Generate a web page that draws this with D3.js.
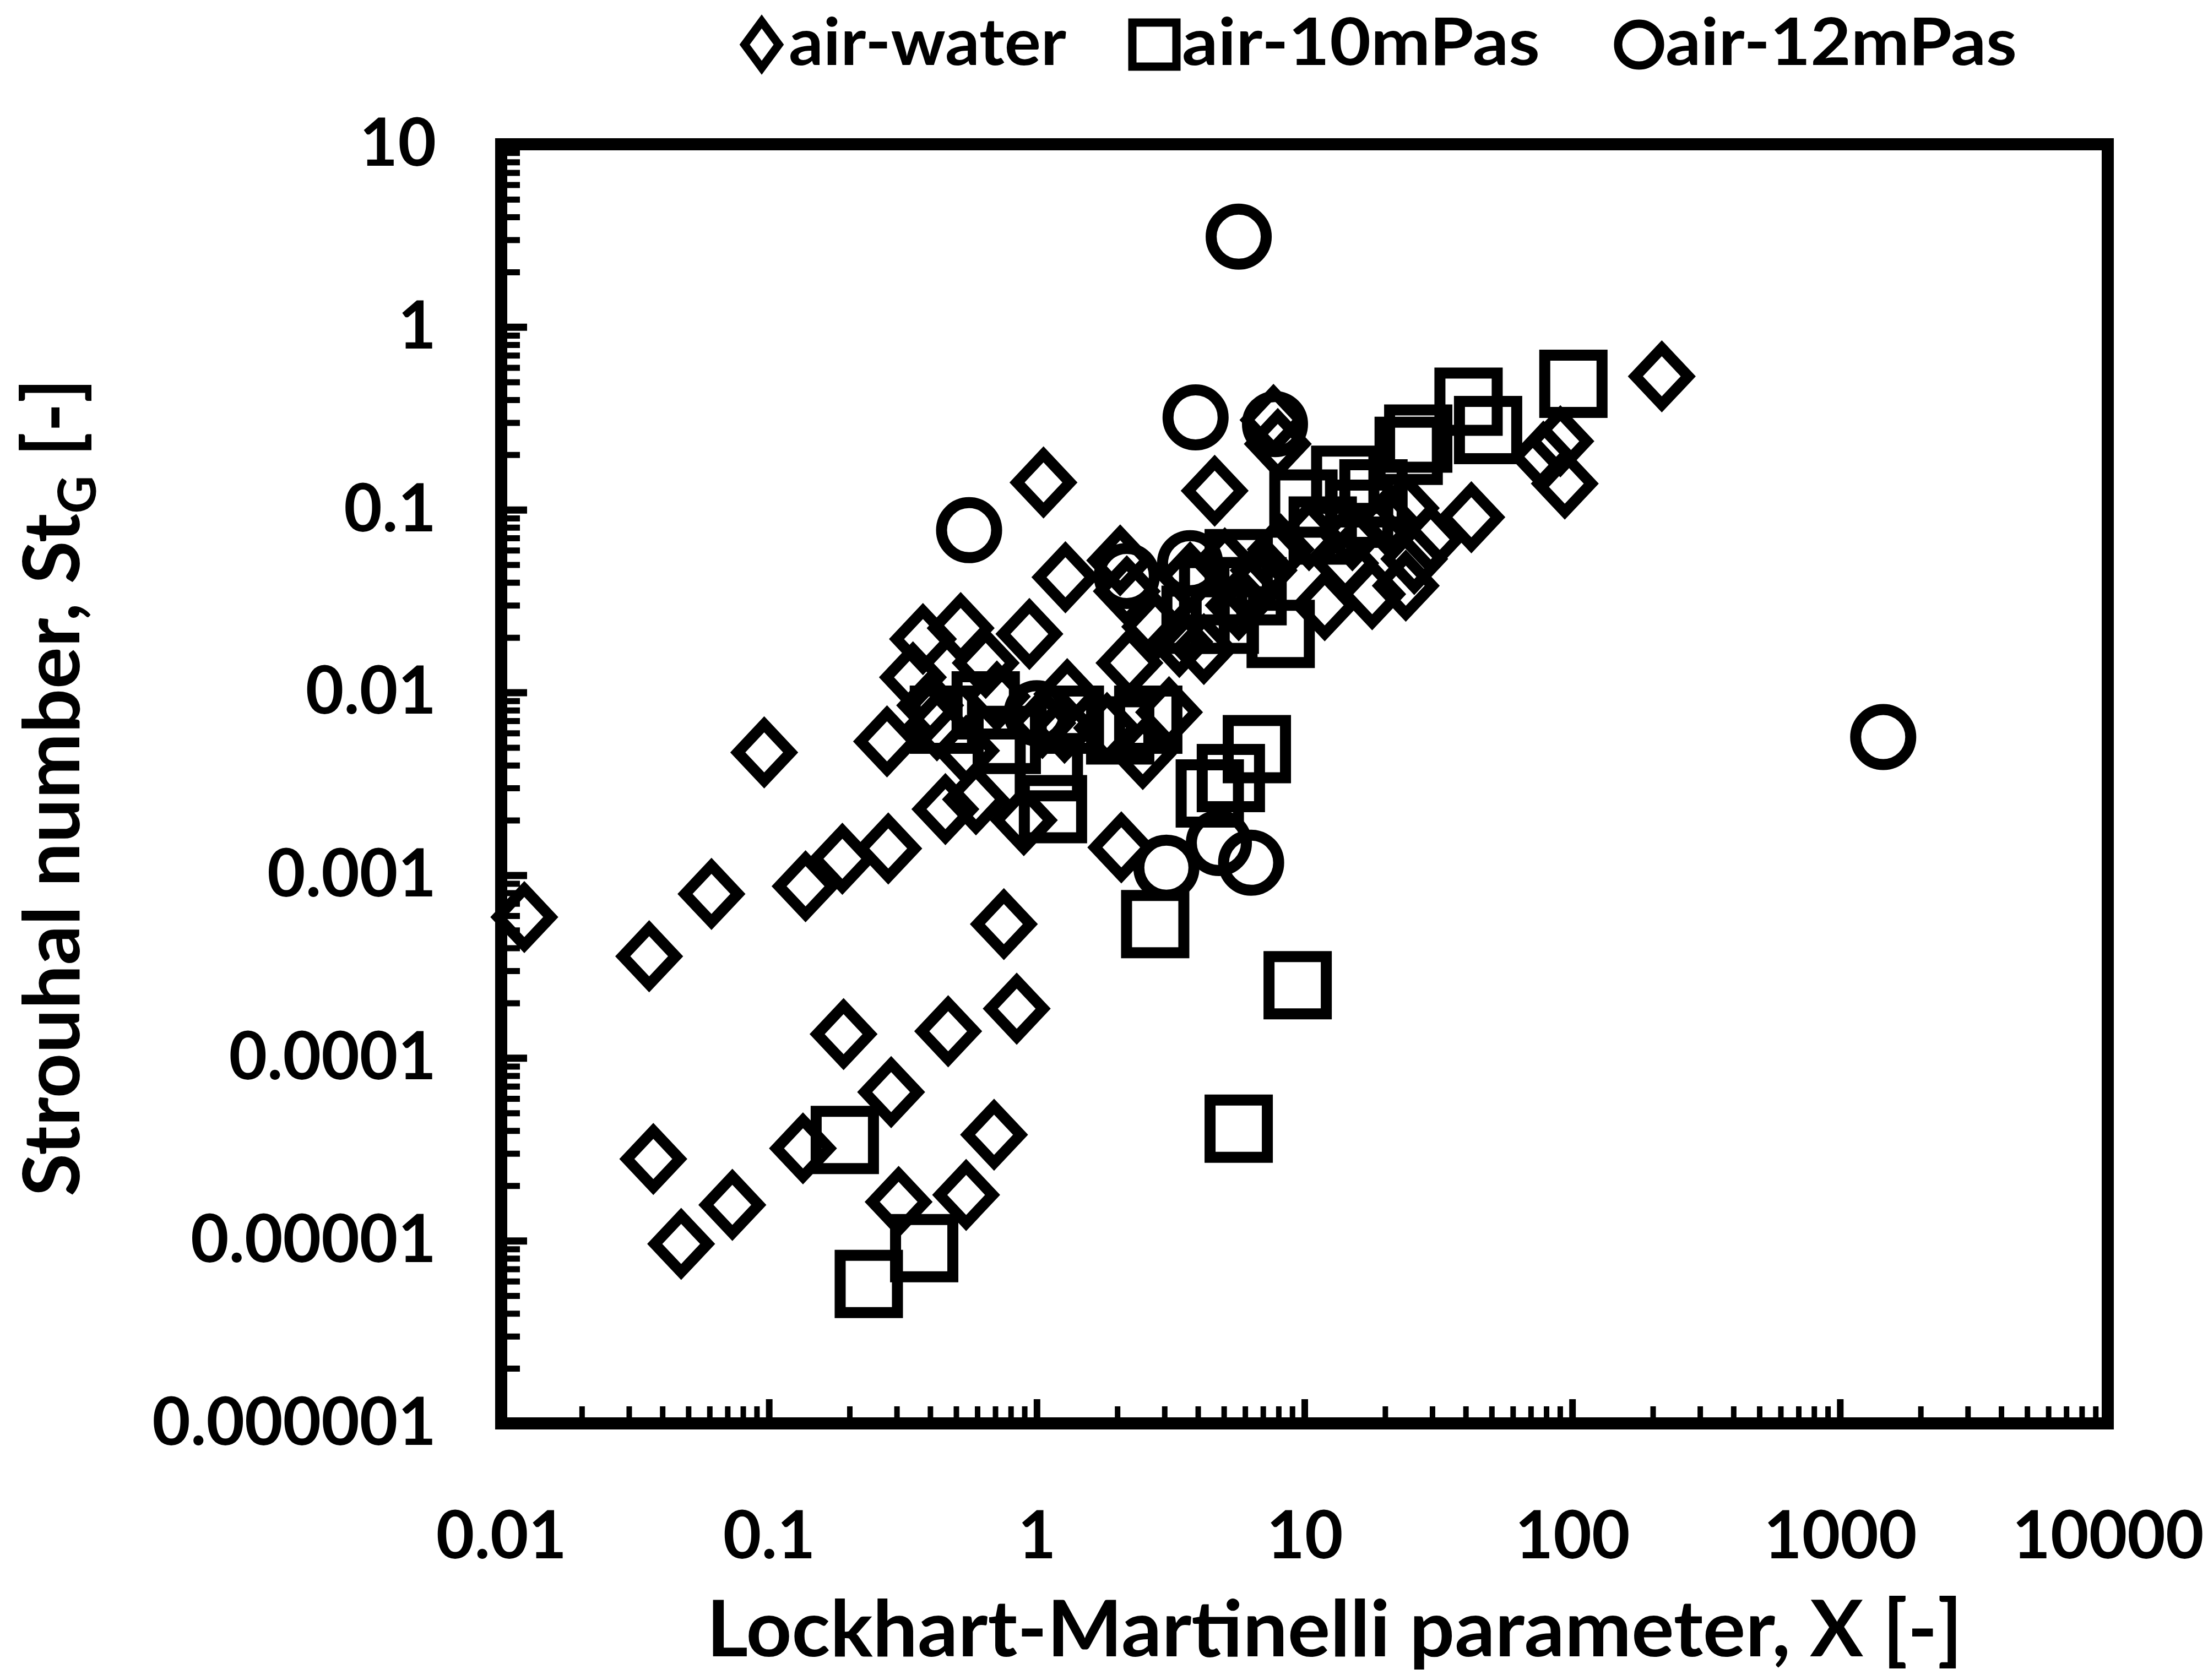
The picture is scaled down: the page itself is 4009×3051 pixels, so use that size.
<!DOCTYPE html>
<html lang="en">
<head>
  <meta charset="utf-8">
  <title>Strouhal number vs Lockhart-Martinelli parameter</title>
  <script type="text/javascript" src="https://cdn.jsdelivr.net/npm/d3@7/dist/d3.min.js"></script>
  <style>
    body { margin: 0; background: #fff; }
  </style>
</head>
<body>
  <script type="text/javascript">

  var airWater = [
    [0.0122, 5.9e-4], [0.0357, 3.6e-4], [0.061, 7.9e-4], [0.096, 4.7e-3],
    [0.137, 8.7e-4], [0.188, 1.23e-3], [0.279, 1.4e-3], [0.276, 5.4e-3],
    [0.037, 2.8e-5], [0.047, 9.6e-6], [0.073, 1.57e-5], [0.134, 3.2e-5],
    [0.19, 1.35e-4], [0.286, 6.5e-5], [0.305, 1.63e-5], [0.467, 1.4e-4],
    [0.545, 1.78e-5], [0.693, 3.8e-5], [0.842, 1.86e-4], [0.754, 5.4e-4],
    [2.07, 1.42e-3], [0.376, 0.0196], [0.345, 0.0121], [0.52, 0.0225],
    [0.939, 0.0209], [0.71, 0.0095], [0.424, 0.0066], [0.545, 0.0048],
    [0.456, 0.0023], [0.593, 0.0026], [0.895, 0.0020], [1.05, 0.0068],
    [1.27, 0.0064], [1.83, 0.0064], [2.49, 0.0046], [2.22, 0.0145],
    [0.40, 0.0085], [0.645, 0.0145], [1.06, 0.141], [1.28, 0.0427],
    [2.05, 0.0528], [2.17, 0.0358], [2.77, 0.0229], [3.41, 0.0189],
    [3.12, 0.0078], [3.74, 0.0427], [4.21, 0.0173], [4.62, 0.127],
    [5.04, 0.051], [5.68, 0.030], [6.24, 0.0358], [7.04, 0.0466],
    [7.66, 0.31], [7.95, 0.229], [8.15, 0.0607], [10.4, 0.0725],
    [11.9, 0.030], [14.2, 0.051], [17.9, 0.0345], [23.9, 0.0384],
    [23.9, 0.102], [29.6, 0.0688], [25.7, 0.0538], [20.4, 0.086],
    [15.1, 0.0725], [42, 0.091], [78, 0.195], [90.3, 0.237],
    [93.8, 0.139], [216, 0.537], [1.3, 0.0098]
  ];

  var air10mPas = [
    [101, 0.489], [41, 0.39], [48.5, 0.273], [26.6, 0.245], [24.5, 0.21],
    [14.2, 0.146], [18.1, 0.123], [9.91, 0.108], [11.7, 0.077], [16, 0.095],
    [8.15, 0.0209], [6.4, 0.0358], [5.04, 0.025], [5.68, 0.051], [6.64, 0.0049],
    [4.43, 0.0028], [5.31, 0.0034], [2.77, 0.00054], [9.43, 0.00025], [5.68, 4.1e-5],
    [0.192, 3.56e-5], [0.236, 5.8e-6], [0.38, 9.1e-6], [1.15, 0.0023], [1.11, 0.0039],
    [0.773, 0.0055], [2.05, 0.0062], [2.61, 0.0071], [0.645, 0.0085], [0.45, 0.0071],
    [1.33, 0.0071], [3.92, 0.025], [4.56, 0.0358]
  ];

  var air12mPas = [
    [5.68, 3.12], [3.92, 0.32], [7.76, 0.294], [0.559, 0.0773], [2.17, 0.0434],
    [3.74, 0.051], [1.0, 0.0077], [3.05, 0.0011], [4.79, 0.0015], [6.32, 0.00117],
    [1450, 0.0057]
  ];

  var seriesNames = ["air-water", "air-10mPas", "air-12mPas"];

  var xTickValues = [0.01, 0.1, 1, 10, 100, 1000, 10000];
  var xTickLabels = ["0.01", "0.1", "1", "10", "100", "1000", "10000"];
  var yTickValues = [1e-6, 1e-5, 1e-4, 1e-3, 0.01, 0.1, 1, 10];
  var yTickLabels = ["0.000001", "0.00001", "0.0001", "0.001", "0.01", "0.1", "1", "10"];

  var width = 4009;
  var height = 3051;
  var plot = { left: 910, right: 3827, top: 262, bottom: 2585 };
  var font = "Lato, 'Open Sans', sans-serif";

  var svg = d3.select("body")
    .append("svg")
    .attr("width", width)
    .attr("height", height)
    .attr("viewBox", [0, 0, width, height]);

  var x = d3.scaleLog().domain([0.01, 10000]).range([plot.left, plot.right]);
  var y = d3.scaleLog().domain([1e-6, 10]).range([plot.bottom, plot.top]);

  // minor ticks : 2..9 of every decade
  var xMinor = x.ticks().filter(v => xTickValues.indexOf(v) < 0);
  var yMinor = y.ticks().filter(v => !yTickValues.some(t => Math.abs(t - v) / t < 1e-9));

  function styleAxis(g, w) {
    g.select(".domain").remove();
    g.selectAll(".tick line").attr("stroke", "#000").attr("stroke-width", w);
    g.selectAll(".tick text")
      .attr("fill", "#000")
      .attr("font-family", font)
      .attr("font-weight", 700)
      .attr("font-size", 120);
  }

  svg.append("g")
    .attr("transform", `translate(0,${plot.bottom})`)
    .call(d3.axisBottom(x).tickValues(xMinor).tickSize(-31).tickFormat(""))
    .call(g => styleAxis(g, 10));

  svg.append("g")
    .attr("transform", `translate(0,${plot.bottom})`)
    .call(d3.axisBottom(x).tickValues(xTickValues).tickSize(-44).tickPadding(160)
      .tickFormat((d, i) => xTickLabels[i]))
    .call(g => styleAxis(g, 12));

  svg.append("g")
    .attr("transform", `translate(${plot.left},0)`)
    .call(d3.axisLeft(y).tickValues(yMinor).tickSize(-34).tickFormat(""))
    .call(g => styleAxis(g, 11));

  svg.append("g")
    .attr("transform", `translate(${plot.left},0)`)
    .call(d3.axisLeft(y).tickValues(yTickValues).tickSize(-47).tickPadding(118)
      .tickFormat((d, i) => yTickLabels[i]))
    .call(g => styleAxis(g, 13));

  // frame
  svg.append("rect")
    .attr("x", plot.left)
    .attr("y", plot.top)
    .attr("width", plot.right - plot.left)
    .attr("height", plot.bottom - plot.top)
    .attr("fill", "none")
    .attr("stroke", "#000")
    .attr("stroke-width", 22);

  // marker shapes
  var diamond = (hw, hh) => `M0,${-hh}L${hw},0L0,${hh}L${-hw},0Z`;
  var square = d3.symbol(d3.symbolSquare, 104 * 104);
  var circle = d3.symbol(d3.symbolCircle, Math.PI * 50 * 50);

  function drawSeries(data, path) {
    svg.append("g")
      .attr("fill", "none")
      .attr("stroke", "#000")
      .attr("stroke-width", 20)
      .attr("stroke-linejoin", "miter")
      .selectAll("path")
      .data(data)
      .enter()
      .append("path")
      .attr("transform", d => `translate(${x(d[0])},${y(d[1])})`)
      .attr("d", path);
  }

  drawSeries(airWater, diamond(48, 51));
  drawSeries(air10mPas, square());
  drawSeries(air12mPas, circle());

  // legend
  var legendY = 81;
  var legendItems = [
    { mark: diamond(31, 42), mx: 1383, tx: 1432, tw: 504 },
    { mark: d3.symbol(d3.symbolSquare, 80 * 80)(), mx: 2096, tx: 2146, tw: 650 },
    { mark: d3.symbol(d3.symbolCircle, Math.PI * 38 * 38)(), mx: 2976, tx: 3024, tw: 638 }
  ];

  var legend = svg.append("g");
  legend.selectAll("path")
    .data(legendItems)
    .enter()
    .append("path")
    .attr("transform", d => `translate(${d.mx},${legendY})`)
    .attr("d", d => d.mark)
    .attr("fill", "none")
    .attr("stroke", "#000")
    .attr("stroke-width", 15);

  legend.selectAll("text")
    .data(legendItems)
    .enter()
    .append("text")
    .attr("x", d => d.tx)
    .attr("y", 118)
    .attr("font-family", font)
    .attr("font-weight", 700)
    .attr("font-size", 118)
    .attr("textLength", d => d.tw)
    .attr("lengthAdjust", "spacingAndGlyphs")
    .text((d, i) => seriesNames[i]);

  // axis titles
  svg.append("text")
    .attr("x", 2423)
    .attr("y", 3008)
    .attr("text-anchor", "middle")
    .attr("font-family", font)
    .attr("font-weight", 700)
    .attr("font-size", 142)
    .attr("textLength", 2280)
    .attr("lengthAdjust", "spacingAndGlyphs")
    .text("Lockhart-Martinelli parameter,  X [-]");

  var yTitle = svg.append("text")
    .attr("transform", "translate(144,1430) rotate(-90)")
    .attr("text-anchor", "middle")
    .attr("font-family", font)
    .attr("font-weight", 700)
    .attr("font-size", 142);
  yTitle.append("tspan").text("Strouhal number, St");
  yTitle.append("tspan").attr("font-size", 95).attr("dy", 30).text("G");
  yTitle.append("tspan").attr("dy", -30).text(" [-]");

  </script>
</body>
</html>
